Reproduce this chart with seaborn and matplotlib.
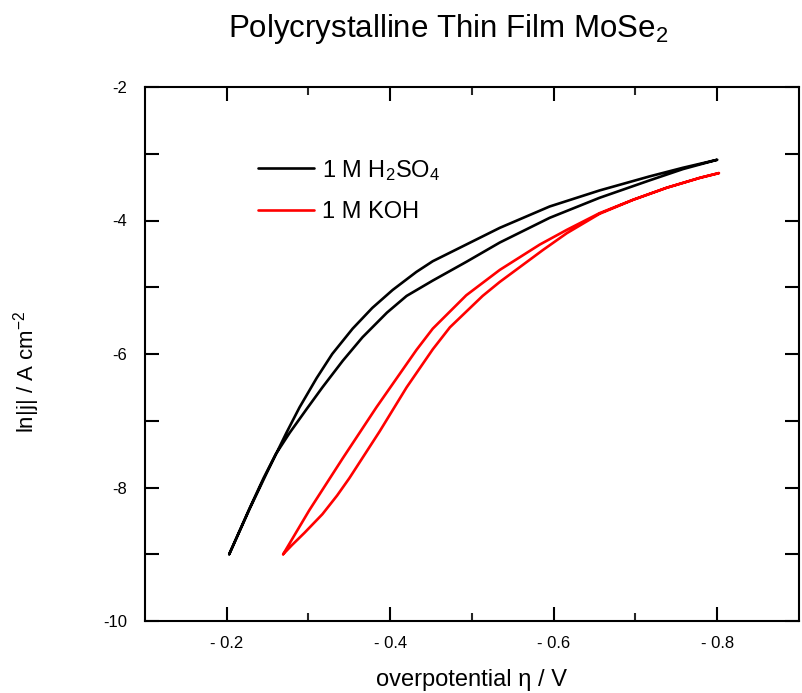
import matplotlib
matplotlib.use("Agg")
import matplotlib.pyplot as plt
import seaborn as sns
import pandas as pd
from matplotlib.ticker import FixedLocator, FixedFormatter

# ---------------- data ----------------
# 1 M H2SO4: forward (upper) branch then return (lower) branch
h2so4_up_x = [-0.203, -0.228, -0.249, -0.273, -0.289, -0.310, -0.329, -0.354, -0.378,
              -0.403, -0.432, -0.452, -0.493, -0.534, -0.595, -0.656, -0.717, -0.758, -0.800]
h2so4_up_y = [-9.00, -8.32, -7.78, -7.18, -6.80, -6.36, -6.00, -5.62, -5.31,
              -5.04, -4.77, -4.61, -4.36, -4.11, -3.79, -3.55, -3.34, -3.21, -3.09]
h2so4_dn_x = [-0.800, -0.758, -0.717, -0.656, -0.595, -0.534, -0.493, -0.452, -0.420,
              -0.396, -0.366, -0.342, -0.317, -0.298, -0.277, -0.260, -0.245, -0.228, -0.203]
h2so4_dn_y = [-3.09, -3.23, -3.40, -3.66, -3.96, -4.33, -4.62, -4.90, -5.13,
              -5.38, -5.75, -6.10, -6.50, -6.82, -7.18, -7.50, -7.86, -8.31, -9.00]

# 1 M KOH
koh_up_x = [-0.269, -0.301, -0.342, -0.383, -0.432, -0.452, -0.493, -0.534, -0.583,
            -0.616, -0.656, -0.697, -0.738, -0.779, -0.802]
koh_up_y = [-9.00, -8.34, -7.56, -6.80, -5.94, -5.62, -5.12, -4.74, -4.36,
            -4.14, -3.89, -3.69, -3.51, -3.36, -3.29]
koh_dn_x = [-0.802, -0.779, -0.738, -0.697, -0.656, -0.616, -0.587, -0.555, -0.534,
            -0.513, -0.473, -0.452, -0.420, -0.387, -0.350, -0.335, -0.317, -0.295,
            -0.280, -0.269]
koh_dn_y = [-3.29, -3.36, -3.51, -3.69, -3.90, -4.19, -4.44, -4.73, -4.92,
            -5.13, -5.60, -5.93, -6.50, -7.16, -7.86, -8.12, -8.40, -8.68,
            -8.86, -9.00]

series_labels = ["1 M H$_2$SO$_4$", "1 M KOH"]
series_colors = ["black", "red"]

x_major_ticks = [-0.2, -0.4, -0.6, -0.8]
x_major_labels = ["- 0.2", "- 0.4", "- 0.6", "- 0.8"]
x_minor_ticks = [-0.3, -0.5, -0.7]
y_major_ticks = [-10, -8, -6, -4, -2]
y_major_labels = ["-10", "-8", "-6", "-4", "-2"]
y_minor_ticks = [-9, -7, -5, -3]

title_text = "Polycrystalline Thin Film MoSe$_2$"
x_label = "overpotential \u03b7 / V"
y_label = "ln|j| / A cm$^{\\mathregular{-2}}$"

# ---------------- build table ----------------
rows = []
for lab, xs, ys in [(series_labels[0], h2so4_up_x + h2so4_dn_x, h2so4_up_y + h2so4_dn_y),
                    (series_labels[1], koh_up_x + koh_dn_x, koh_up_y + koh_dn_y)]:
    for i, (xv, yv) in enumerate(zip(xs, ys)):
        rows.append({"eta": xv, "lnj": yv, "electrolyte": lab, "order": i})
df = pd.DataFrame(rows)

# ---------------- style ----------------
sns.set_style("white")
plt.rcParams["font.family"] = ["Liberation Sans", "DejaVu Sans"]
plt.rcParams["text.color"] = "black"
plt.rcParams["mathtext.fontset"] = "custom"
plt.rcParams["mathtext.rm"] = "Liberation Sans"
plt.rcParams["mathtext.it"] = "Liberation Sans:italic"
plt.rcParams["mathtext.bf"] = "Liberation Sans:bold"
plt.rcParams["lines.solid_joinstyle"] = "round"
plt.rcParams["lines.solid_capstyle"] = "round"

fig = plt.figure(figsize=(8.03, 6.93), dpi=100)
ax = fig.add_axes([145 / 803, 1 - 621 / 693, (799 - 145) / 803, (621 - 87) / 693])

sns.lineplot(data=df, x="eta", y="lnj", hue="electrolyte", hue_order=series_labels,
             palette=dict(zip(series_labels, series_colors)), sort=False,
             estimator=None, linewidth=1.9, ax=ax)

ax.set_xlim(-0.1, -0.9)
ax.set_ylim(-10, -2)

ax.xaxis.set_major_locator(FixedLocator(x_major_ticks))
ax.xaxis.set_major_formatter(FixedFormatter(x_major_labels))
ax.xaxis.set_minor_locator(FixedLocator(x_minor_ticks))
ax.yaxis.set_major_locator(FixedLocator(y_major_ticks))
ax.yaxis.set_major_formatter(FixedFormatter(y_major_labels))
ax.yaxis.set_minor_locator(FixedLocator(y_minor_ticks))

for s in ax.spines.values():
    s.set_visible(True)
    s.set_linewidth(1.5)
    s.set_color("black")

ax.tick_params(axis="x", which="major", direction="in", length=10, width=1.5,
               top=True, bottom=True, labelsize=12, pad=11, colors="black")
ax.tick_params(axis="x", which="minor", direction="in", length=6, width=1.5,
               top=True, bottom=True)
ax.tick_params(axis="y", which="both", direction="in", length=10, width=1.5,
               left=True, right=True, labelsize=12, pad=13, colors="black")

ax.set_xlabel("")
ax.set_ylabel("")
fig.text(472 / 803, 1 - 686 / 693, x_label, ha="center", va="baseline", fontsize=17)
fig.text(27 / 803, 1 - 372 / 693, y_label, ha="center", va="center", rotation=90, fontsize=16)
fig.text(448 / 803, 1 - 37 / 693, title_text, ha="center", va="baseline", fontsize=22.5)

leg = ax.legend(frameon=False, loc="upper left", bbox_to_anchor=(0.173, 0.8676),
                borderpad=0, borderaxespad=0, handlelength=2.37, handletextpad=0.34,
                labelspacing=0.78, fontsize=17)
for line in leg.get_lines():
    line.set_linewidth(1.9)

fig.savefig("out.png", dpi=100)
